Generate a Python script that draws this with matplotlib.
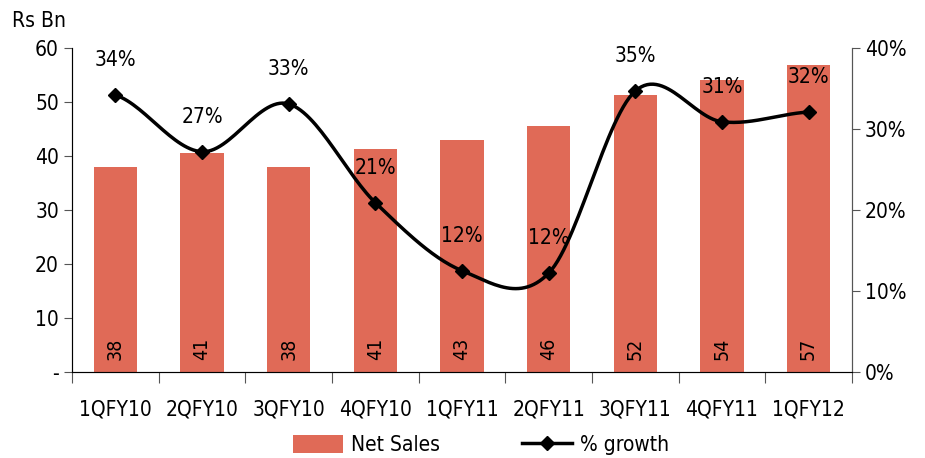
import numpy as np
import matplotlib
matplotlib.use('Agg')
import matplotlib.pyplot as plt
from matplotlib.lines import Line2D
from matplotlib.patches import Patch

# Data
quarters = ['1QFY10', '2QFY10', '3QFY10', '4QFY10', '1QFY11',
            '2QFY11', '3QFY11', '4QFY11', '1QFY12']
net_sales = [38.0, 40.5, 38.0, 41.3, 43.0, 45.5, 51.4, 54.0, 56.9]
sales_labels = ['38', '41', '38', '41', '43', '46', '52', '54', '57']
growth_pct = [34.2, 27.2, 33.1, 20.9, 12.5, 12.2, 34.7, 30.9, 32.1]
growth_labels = ['34%', '27%', '33%', '21%', '12%', '12%', '35%', '31%', '32%']

BAR_COLOR = '#E06A57'
plt.rcParams['font.family'] = ['DejaVu Sans']
plt.rcParams['font.stretch'] = 'condensed'


def smooth(x, y, steps=30):
    """Catmull-Rom style smoothing, like Excel's smoothed line"""
    x = np.asarray(x, float)
    y = np.asarray(y, float)
    px = np.concatenate([[2 * x[0] - x[1]], x, [2 * x[-1] - x[-2]]])
    py = np.concatenate([[y[0]], y, [y[-1]]])
    out_x, out_y = [], []
    t = np.linspace(0, 1, steps)
    for i in range(1, len(px) - 2):
        p0, p1, p2, p3 = [np.array([px[j], py[j]]) for j in (i - 1, i, i + 1, i + 2)]
        c1 = p1 + (p2 - p0) / 6
        c2 = p2 - (p3 - p1) / 6
        pts = ((1 - t) ** 3)[:, None] * p1 + (3 * (1 - t) ** 2 * t)[:, None] * c1 \
            + (3 * (1 - t) * t ** 2)[:, None] * c2 + (t ** 3)[:, None] * p2
        out_x.extend(pts[:, 0])
        out_y.extend(pts[:, 1])
    return np.array(out_x), np.array(out_y)


fig = plt.figure(figsize=(9.25, 4.58), dpi=100)
ax = fig.add_axes([0.078, 0.188, 0.843, 0.707])
x = np.arange(len(quarters))

ax.bar(x, net_sales, width=0.5, color=BAR_COLOR, zorder=2)
for xi, lab in zip(x, sales_labels):
    ax.text(xi, 4.2, lab, rotation=90, ha='center', va='center', fontsize=14, color='black')

ax.set_xlim(-0.5, len(quarters) - 0.5)
ax.set_ylim(0, 60)
ax.set_yticks(range(0, 61, 10))
ax.set_yticklabels(['-', '10', '20', '30', '40', '50', '60'], fontsize=15)
ax.set_xticks(x)
ax.set_xticklabels(quarters, fontsize=15)
ax.set_xticks(np.arange(-0.5, len(quarters)), minor=True)
ax.tick_params(axis='x', which='major', length=0, pad=20)
ax.tick_params(axis='x', which='minor', length=8, direction='out', width=0.8, color='#555555')
ax.tick_params(axis='y', length=6, width=0.8, color='#555555')
ax.spines['top'].set_visible(False)
for s in ('left', 'right', 'bottom'):
    ax.spines[s].set_linewidth(0.8)
    ax.spines[s].set_color('#555555')

ax2 = ax.twinx()
ax2.set_ylim(0, 40)
ax2.set_yticks(range(0, 41, 10))
ax2.set_yticklabels([f'{v}%' for v in range(0, 41, 10)], fontsize=15)
ax2.tick_params(axis='y', length=6, width=0.8, color='#555555')
ax2.spines['top'].set_visible(False)
ax2.spines['right'].set_linewidth(0.8)
ax2.spines['right'].set_color('#555555')

sx, sy = smooth(x, growth_pct)
ax2.plot(sx, sy, color='black', linewidth=2.5, zorder=3)
ax2.plot(x, growth_pct, linestyle='none', marker='D', markersize=7, color='black', zorder=4)
for xi, yi, lab in zip(x, growth_pct, growth_labels):
    ax2.annotate(lab, (xi, yi), xytext=(0, 25), textcoords='offset points',
                 ha='center', va='center', fontsize=15)

fig.text(0.013, 0.955, 'Rs Bn', fontsize=15, ha='left', va='center')

handles = [Patch(facecolor=BAR_COLOR, label='Net Sales'),
           Line2D([], [], color='black', linewidth=2.5, marker='D', markersize=7, label='% growth')]
fig.legend(handles=handles, loc='lower center', bbox_to_anchor=(0.52, -0.035), ncol=2,
           frameon=False, fontsize=15, handlelength=2.4, handleheight=0.9,
           handletextpad=0.4, columnspacing=3.9)

fig.savefig('out.png', dpi=100)
